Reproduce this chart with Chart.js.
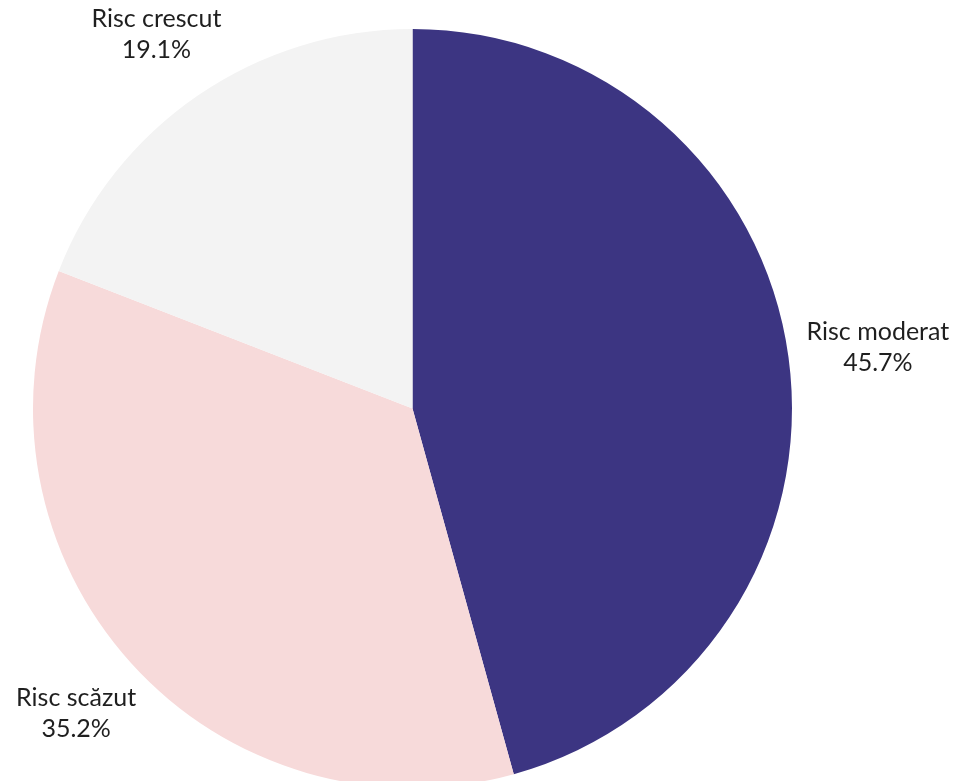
<!DOCTYPE html>
<html>
<head>
<meta charset="utf-8">
<script src="https://cdn.jsdelivr.net/npm/chart.js@4.4.1/dist/chart.umd.min.js"></script>
<style>
  html, body { margin: 0; padding: 0; background: #fff; overflow: hidden; }
  #wrap { width: 955px; height: 800px; position: relative; }
</style>
</head>
<body>
<div id="wrap"><canvas id="riskPie"></canvas></div>
<script>
// date grafic
const categories = ['Risc moderat', 'Risc scăzut', 'Risc crescut'];
const shares = [45.7, 35.2, 19.1];
const sliceColors = ['#3c3582', '#f7dada', '#f3f3f3'];

// etichete in afara feliilor
const outsideLabels = {
    id: 'outsideLabels',
    afterDatasetsDraw(chart) {
        const ctx = chart.ctx;
        const meta = chart.getDatasetMeta(0);
        ctx.save();
        ctx.fillStyle = '#1f1f1f';
        ctx.font = '25px Lato, "Noto Sans", sans-serif';
        ctx.textAlign = 'center';
        ctx.textBaseline = 'middle';
        meta.data.forEach((arc, i) => {
            const p = arc.getProps(['x', 'y', 'startAngle', 'endAngle', 'outerRadius'], true);
            const mid = (p.startAngle + p.endAngle) / 2;
            const d = p.outerRadius * 1.195;
            // eticheta din dreapta sta putin mai departe
            const nudge = Math.cos(mid) > 0.9 ? 16 : 0;
            const x = p.x + Math.cos(mid) * d + nudge;
            const y = p.y + Math.sin(mid) * d;
            ctx.fillText(categories[i], x, y - 15);
            ctx.fillText(shares[i].toFixed(1) + '%', x, y + 16);
        });
        ctx.restore();
    }
};

new Chart(document.getElementById('riskPie'), {
    type: 'pie',
    data: {
        labels: categories,
        datasets: [{
            data: shares,
            backgroundColor: sliceColors,
            borderWidth: 0
        }]
    },
    options: {
        responsive: true,
        maintainAspectRatio: false,
        animation: false,
        layout: { padding: { left: 33, right: 163, top: 29, bottom: 12 } },
        plugins: {
            legend: { display: false },
            tooltip: { enabled: false }
        }
    },
    plugins: [outsideLabels]
});
</script>
</body>
</html>
